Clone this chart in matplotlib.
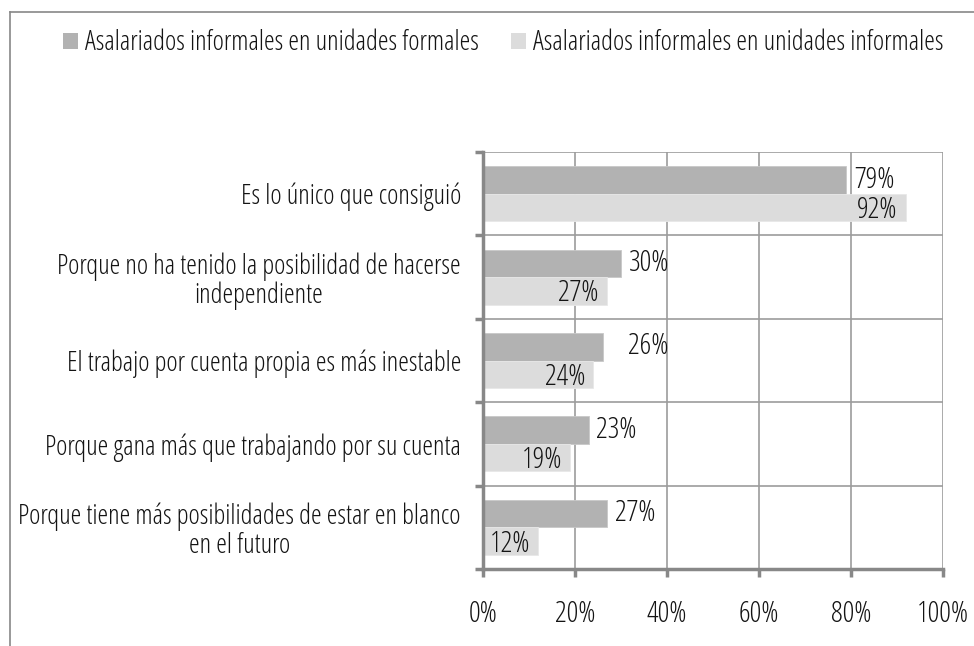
import numpy as np
import matplotlib.pyplot as plt
from matplotlib.lines import Line2D
from matplotlib.patches import Patch

plt.rcParams['font.family'] = ['Open Sans', 'DejaVu Sans']
plt.rcParams['font.stretch'] = 'condensed'
plt.rcParams['font.weight'] = 300

categorias = ['Es lo único que consiguió',
              'Porque no ha tenido la posibilidad de hacerse\nindependiente',
              'El trabajo por cuenta propia es más inestable',
              'Porque gana más que trabajando por su cuenta',
              'Porque tiene más posibilidades de estar en blanco\nen el futuro']
formales = [79, 30, 26, 23, 27]
informales = [92, 27, 24, 19, 12]
series = ['Asalariados informales en unidades formales',
          'Asalariados informales en unidades informales']

c_dark = '#b2b2b2'
c_light = '#dcdcdc'
txt = '#141414'
fs = 19.5
fs_num = 21

fig = plt.figure(figsize=(9.74, 6.46), dpi=100)
ax = fig.add_axes([0.496, 0.1192, 0.472, 0.6455])

y = np.arange(len(categorias))
h = 0.33
ax.barh(y - h/2, formales, height=h, color=c_dark, edgecolor='#c8c8c8', linewidth=0.6, zorder=3)
ax.barh(y + h/2, informales, height=h, color=c_light, edgecolor='#e8e8e8', linewidth=0.6, zorder=3)

# etiquetas de valores
extra = [0, 0, 13, 0, 0]
for i in range(len(categorias)):
    ax.annotate(f'{formales[i]}%', (formales[i], y[i] - h/2), xytext=(5.5 + extra[i], 0),
                textcoords='offset points', ha='left', va='center', fontsize=fs_num, color=txt, zorder=4)
    ax.annotate(f'{informales[i]}%', (informales[i], y[i] + h/2), xytext=(-6, -2),
                textcoords='offset points', ha='right', va='center', fontsize=fs_num, color=txt, zorder=4)

ax.set_xlim(0, 100)
ax.set_ylim(len(categorias) - 0.5, -0.5)
ax.set_xticks(np.arange(0, 101, 20))
ax.set_xticklabels([f'{v}%' for v in range(0, 101, 20)], fontsize=fs_num, color=txt)
ax.set_yticks(y)
ax.set_yticklabels(categorias, fontsize=fs, color=txt, multialignment='center', linespacing=1.05)
ax.set_yticks(np.arange(-0.5, len(categorias), 1), minor=True)

ax.tick_params(axis='y', which='major', length=0, pad=16)
ax.tick_params(axis='y', which='minor', length=6, width=2.5, color='#888888')
ax.tick_params(axis='x', which='major', length=6, width=2.5, color='#888888', pad=16)

ax.grid(axis='x', which='major', color='#9c9c9c', linewidth=1.2, zorder=0)
ax.grid(axis='y', which='minor', color='#9c9c9c', linewidth=1.2, zorder=0)
ax.grid(axis='y', which='major', visible=False)

for s in ['top', 'right']:
    ax.spines[s].set_visible(False)
for s in ['left', 'bottom']:
    ax.spines[s].set_color('#888888')
    ax.spines[s].set_linewidth(2.5)
    ax.spines[s].set_zorder(5)

handles = [Patch(facecolor=c_dark, edgecolor='none'), Patch(facecolor=c_light, edgecolor='none')]
fig.legend(handles, series, loc='center', bbox_to_anchor=(0.517, 0.933), ncol=2, frameon=False,
           fontsize=fs, handlelength=0.55, handleheight=0.55, handletextpad=0.25,
           columnspacing=1.2, labelcolor=txt)

# borde de la figura
fig.add_artist(Line2D([10/974, 1], [1 - 12/646] * 2, transform=fig.transFigure, color='#888888', lw=1.2))
fig.add_artist(Line2D([10/974] * 2, [0, 1 - 12/646], transform=fig.transFigure, color='#888888', lw=1.2))

fig.savefig('out.png', dpi=100)
